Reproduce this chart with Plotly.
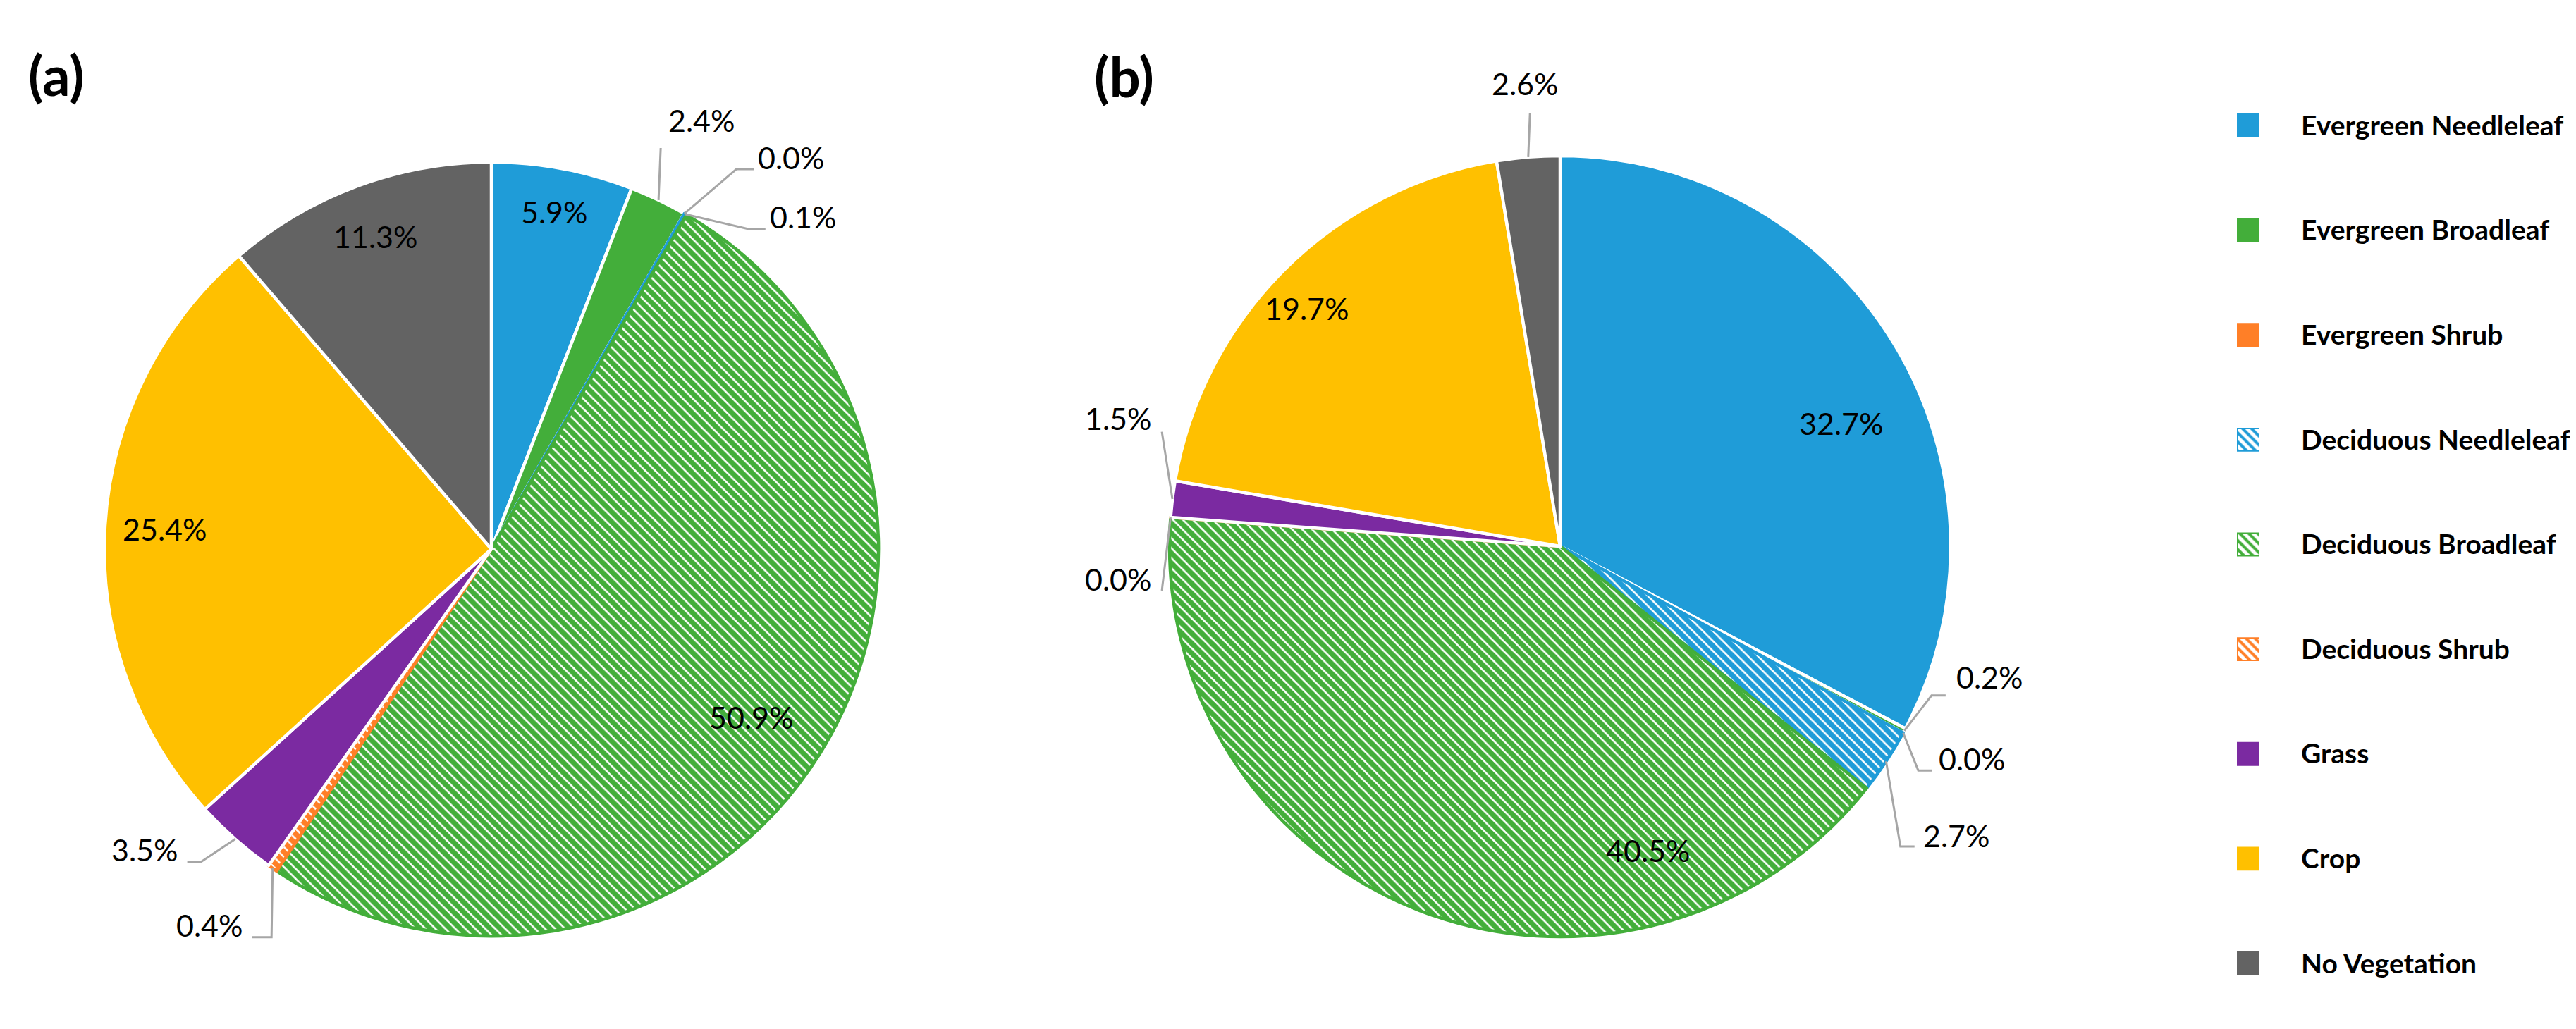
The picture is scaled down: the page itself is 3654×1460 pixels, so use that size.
import math
import plotly.graph_objects as go

W, H = 3654, 1460

# ---------------- data ----------------
categories = ["Evergreen Needleleaf", "Evergreen Broadleaf", "Evergreen Shrub",
              "Deciduous Needleleaf", "Deciduous Broadleaf", "Deciduous Shrub",
              "Grass", "Crop", "No Vegetation"]
values_a = [5.9, 2.4, 0.0, 0.1, 50.9, 0.4, 3.5, 25.4, 11.3]
values_b = [32.7, 0.2, 0.0, 2.7, 40.5, 0.0, 1.5, 19.7, 2.6]
panel_labels = ["(a)", "(b)"]

# ---------------- style ----------------
FONT = "Lato"
base_colors = ["#1F9CD8", "#43AE3A", "#FF7F27", "#1F9CD8", "#43AE3A",
               "#FF7F27", "#7B2AA1", "#FFC000", "#636363"]
hatch = ["", "", "", "\\", "\\", "\\", "", "", ""]
fg = [c for c in base_colors]
bg = ["white" if h else c for h, c in zip(hatch, base_colors)]
edge = [c if h else "white" for h, c in zip(hatch, base_colors)]
LEADER = "#A6A6A6"
LABEL_SIZE = 43

# pie placement (pixel centre and radius)
geom = [dict(cx=689, cy=771, R=549), dict(cx=2205, cy=767, R=554)]
title_pos = [(72, 98), (1586, 100)]

# inside label style: index -> (radius factor, angle nudge deg)
inside = [
    {0: (0.887, 0), 4: (0.80, 0.9), 7: (0.845, 0), 8: (0.861, 0)},
    {0: (0.785, 7.4), 4: (0.81, -37.4), 7: (0.89, -2.0)},
]
# outside label style: index -> (elbow radius factor, elbow angle nudge, horiz len, side, gap, dy)
outside = [
    {1: (1.125, -2.7, 0, "U", 58, 22),
     2: (1.168, 2.9, 25, "R", 4, -17),
     3: (1.060, 8.6, 25, "R", 4, -17),
     5: (1.153, -4.9, -28, "L", 10, -17),
     6: (1.102, 1.4, -20, "L", 11, -17)},
    {1: (1.025, -6.3, 20, "R", 13, -26),
     2: (1.082, 3.5, 19, "R", 8, -17),
     3: (1.162, 8.0, 20, "R", 10, -15),
     5: (1.026, -10.6, 0, "L", 12, -17),
     6: (1.061, 9.1, 0, "L", 12, -19),
     8: (1.111, 0.7, 0, "U", -7, 25)},
]


def paper(x, y):
    return x / W, 1 - y / H


def polar(g, rf, deg):
    t = math.radians(deg)
    return g["cx"] + rf * g["R"] * math.sin(t), g["cy"] - rf * g["R"] * math.cos(t)


fig = go.Figure()
annotations = []
shapes = []

for k, vals in enumerate([values_a, values_b]):
    g = geom[k]
    x0, y0 = paper(g["cx"] - g["R"], g["cy"] + g["R"])
    x1, y1 = paper(g["cx"] + g["R"], g["cy"] - g["R"])
    fig.add_trace(go.Pie(
        labels=categories, values=vals, sort=False, direction="clockwise",
        rotation=0, textinfo="none", hoverinfo="label+percent",
        showlegend=False, domain=dict(x=[x0, x1], y=[y0, y1]),
        marker=dict(colors=base_colors,
                    line=dict(color=edge, width=4.5),
                    pattern=dict(shape=hatch, fgcolor=fg, bgcolor=bg,
                                 size=10, solidity=0.75)),
    ))
    total = sum(vals)
    cum = 0.0
    for i, v in enumerate(vals):
        mid = (cum + v / 2) / total * 360
        cum += v
        txt = f"{v:.1f}%"
        if i in inside[k]:
            rf, da = inside[k][i]
            px, py = polar(g, rf, mid + da)
            ax, ay = paper(px, py)
            annotations.append(dict(x=ax, y=ay, xref="paper", yref="paper", text=txt,
                                    showarrow=False, xanchor="center", yanchor="middle",
                                    font=dict(family=FONT, size=LABEL_SIZE, color="black")))
        elif i in outside[k]:
            erf, eda, hl, side, gap, dy = outside[k][i]
            P = polar(g, 1.0, mid)
            E = polar(g, erf, mid + eda)
            F = (E[0] + hl, E[1])
            pts = [paper(*P), paper(*E), paper(*F)]
            path = "M {:.5f},{:.5f} L {:.5f},{:.5f} L {:.5f},{:.5f}".format(
                *pts[0], *pts[1], *pts[2])
            shapes.append(dict(type="path", xref="paper", yref="paper", path=path,
                               line=dict(color=LEADER, width=3)))
            if side == "R":
                tx, ty, xa = F[0] + gap, F[1] + dy, "left"
            elif side == "L":
                tx, ty, xa = F[0] - gap, F[1] + dy, "right"
            else:
                tx, ty, xa = E[0] + gap, E[1] - dy - 17, "center"
            ax, ay = paper(tx, ty)
            annotations.append(dict(x=ax, y=ay, xref="paper", yref="paper", text=txt,
                                    showarrow=False, xanchor=xa, yanchor="middle",
                                    font=dict(family=FONT, size=LABEL_SIZE, color="black")))

for t, (tx, ty) in zip(panel_labels, title_pos):
    ax, ay = paper(tx, ty)
    annotations.append(dict(x=ax, y=ay, xref="paper", yref="paper", text=t,
                            showarrow=False, xanchor="center", yanchor="middle",
                            font=dict(family=FONT, size=78, color="black", weight="bold")))

# legend: one swatch per category, drawn as tiny patterned bars
fig.add_trace(go.Bar(
    y=categories, x=[1] * len(categories), orientation="h", width=0.215,
    marker=dict(color=base_colors, line=dict(color=base_colors, width=2),
                pattern=dict(shape=hatch, fgcolor=["white" if h else c for h, c in zip(hatch, base_colors)],
                             bgcolor=base_colors, size=9, solidity=0.45)),
    showlegend=False, hoverinfo="skip", xaxis="x", yaxis="y",
))

leg_top, leg_bot = 170 - 74.3, 1359 + 74.3
fig.update_layout(
    width=W, height=H, template="none",
    margin=dict(l=0, r=0, t=0, b=0, pad=0),
    paper_bgcolor="white", plot_bgcolor="white",
    annotations=annotations, shapes=shapes,
    xaxis=dict(domain=[3165 / W, 3197 / W], range=[0, 1], visible=False,
               fixedrange=True, automargin=False),
    yaxis=dict(domain=[1 - leg_bot / H, 1 - leg_top / H], anchor="x", side="right",
               type="category", range=[8.5, -0.5], showgrid=False, zeroline=False,
               showline=False, ticks="", ticklabelstandoff=58, automargin=False,
               fixedrange=True,
               tickfont=dict(family=FONT, size=39, color="black", weight="bold")),
    font=dict(family=FONT),
    showlegend=False,
)

fig.write_html("out.html")
